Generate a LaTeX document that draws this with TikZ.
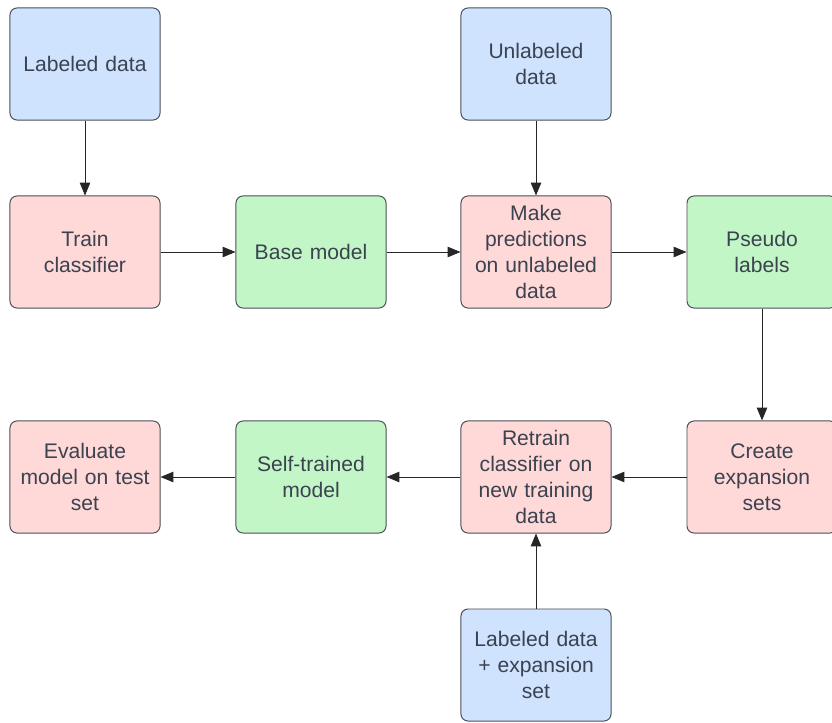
\documentclass[tikz,border=0pt]{standalone}
\usepackage{fontspec}
\setmainfont{Liberation Sans}
\usetikzlibrary{arrows.meta}
\definecolor{databox}{HTML}{CFE3FF}
\definecolor{stepfill}{HTML}{FFD8D8}
\definecolor{modelfill}{HTML}{C2F6C6}
\definecolor{boxline}{HTML}{4A4F58}
\definecolor{boxtext}{HTML}{3B4250}
\tikzset{
	blk/.style={draw=boxline, line width=.7pt, rounded corners=5pt,
		minimum width=3.75cm, minimum height=2.8cm, text width=3.4cm,
		align=center, text=boxtext,
		font=\fontsize{15}{18.5}\selectfont},
	dat/.style={blk, fill=databox},
	stp/.style={blk, fill=stepfill},
	mdl/.style={blk, fill=modelfill},
	flow/.style={-{Triangle[length=3.2mm, width=2.6mm]}, line width=.6pt, draw=black!85}
}
\begin{document}
\begin{tikzpicture}[x=.025cm, y=-.025cm]
	\clip(0, 0) rectangle (832, 722);

		% top row
		\node[dat] (lab) at(85, 64){Labeled data};
		\node[dat] (unlab) at(536, 64){Unlabeled\\data};

		% second row
		\node[stp] (train) at(85, 252){Train\\classifier};
		\node[mdl] (base) at(311, 252){Base model};
		\node[stp] (pred) at(536, 252){Make\\predictions\\on unlabeled\\data};
		\node[mdl] (pseudo) at(762, 252){Pseudo\\labels};

		% third row
		\node[stp] (eval) at(85, 477){Evaluate\\model on test\\set};
		\node[mdl] (self) at(311, 477){Self-trained\\model};
		\node[stp] (retrain) at(536, 477){Retrain\\classifier on\\new training\\data};
		\node[stp] (expand) at(762, 477){Create\\expansion\\sets};

		% bottom
		\node[dat] (labexp) at(536, 665){Labeled data\\+ expansion\\set};

	\draw[flow](lab) to (train);
	\draw[flow](unlab) to (pred);
	\draw[flow](train) to (base);
	\draw[flow](base) to (pred);
	\draw[flow](pred) to (pseudo);
	\draw[flow](pseudo) to (expand);
	\draw[flow](expand) to (retrain);
	\draw[flow](retrain) to (self);
	\draw[flow](self) to (eval);
	\draw[flow](labexp) to (retrain);
\end{tikzpicture}
\end{document}
